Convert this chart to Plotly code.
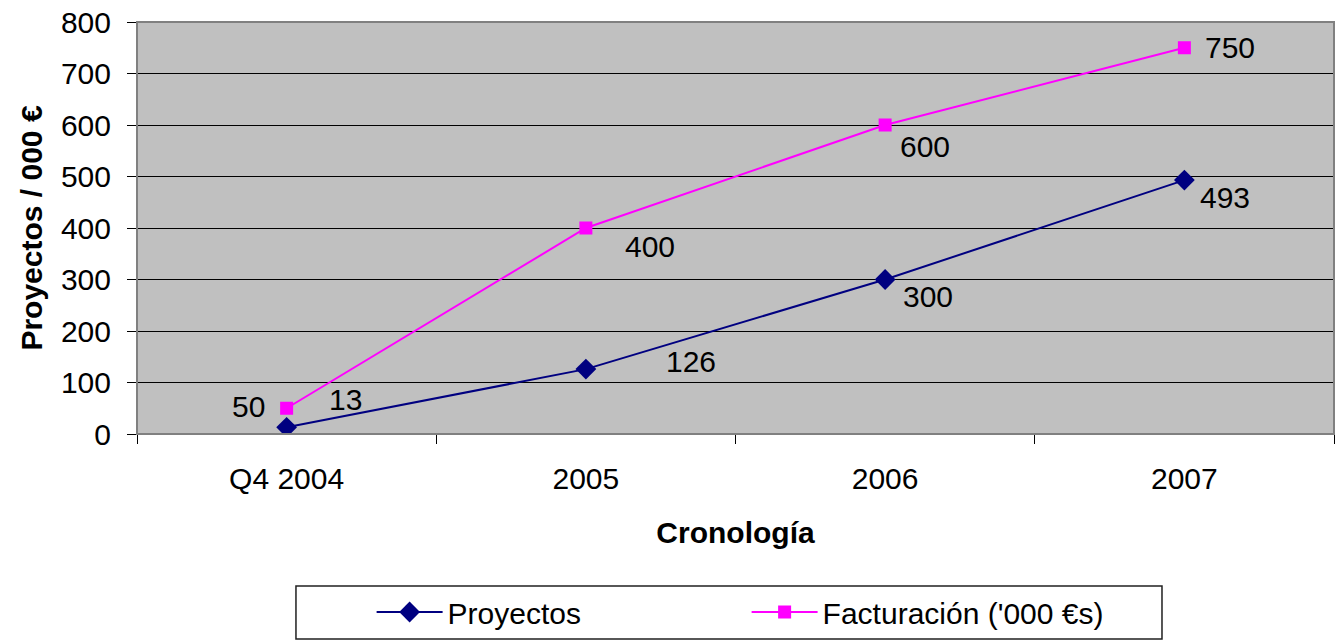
import plotly.graph_objects as go

categories = ["Q4 2004", "2005", "2006", "2007"]
proyectos = [13, 126, 300, 493]
facturacion = [50, 400, 600, 750]
y_ticks = [0, 100, 200, 300, 400, 500, 600, 700, 800]

# label offsets (px) relative to each point, as placed in the original
proy_offsets = [(59, 28), (105, 8), (43, -17), (41, -17)]
fact_offsets = [(-38, 2), (64, -18), (40, -21), (46, 0)]

FONT = "Liberation Sans, Arial, sans-serif"
FS = 30

fig = go.Figure()
fig.add_trace(go.Scatter(
    x=categories, y=proyectos, name="Proyectos", mode="lines+markers",
    line=dict(color="#000080", width=2),
    marker=dict(symbol="diamond", size=16, color="#000080"),
))
fig.add_trace(go.Scatter(
    x=categories, y=facturacion, name="Facturación ('000 €s)", mode="lines+markers",
    line=dict(color="#FF00FF", width=2),
    marker=dict(symbol="square", size=13, color="#FF00FF"),
))

annotations = []
for i, (v, (dx, dy)) in enumerate(zip(proyectos, proy_offsets)):
    annotations.append(dict(x=i, y=v, xref="x", yref="y", text=str(v), showarrow=False,
                            xshift=dx, yshift=dy, font=dict(family=FONT, size=FS, color="black")))
for i, (v, (dx, dy)) in enumerate(zip(facturacion, fact_offsets)):
    annotations.append(dict(x=i, y=v, xref="x", yref="y", text=str(v), showarrow=False,
                            xshift=dx, yshift=dy, font=dict(family=FONT, size=FS, color="black")))

fig.update_layout(
    width=1338, height=642,
    margin=dict(l=137, r=4, t=22, b=208),
    paper_bgcolor="white", plot_bgcolor="#C0C0C0",
    font=dict(family=FONT, size=FS, color="black"),
    showlegend=True,
    legend=dict(orientation="h", x=0.196, y=-0.432, xanchor="left", yanchor="middle",
                font=dict(family=FONT, size=FS), entrywidth=294, bgcolor="rgba(0,0,0,0)",
                itemwidth=66),
    annotations=annotations,
    shapes=[
        dict(type="rect", xref="paper", yref="paper", x0=0, x1=1, y0=0, y1=1,
             line=dict(color="#808080", width=2)),
        dict(type="rect", xref="paper", yref="paper", x0=0.1328, x1=0.8563, y0=-0.4976, y1=-0.3689,
             line=dict(color="#202020", width=1.5)),
    ],
)
fig.update_xaxes(
    type="category", range=[-0.5, 3.5], tickson="boundaries", ticks="outside", ticklen=9,
    tickcolor="black", showline=True, linecolor="black", linewidth=1, showgrid=False,
    ticklabelstandoff=18, tickfont=dict(size=FS), automargin=False,
    title=dict(text="<b>Cronología</b>", font=dict(size=FS), standoff=27),
)
fig.update_yaxes(
    range=[0, 800], tickvals=y_ticks, ticks="outside", ticklen=9, tickcolor="black",
    showline=True, linecolor="#808080", linewidth=1, showgrid=True, gridcolor="black", gridwidth=1,
    zeroline=False, ticklabelstandoff=10, tickfont=dict(size=FS), automargin=False,
    title=dict(text="<b>Proyectos / 000 €</b>", font=dict(size=FS), standoff=9),
)

fig.write_html(
    "out.html",
    config={"displayModeBar": False},
    post_script="document.body.style.margin='0';document.body.style.overflow='hidden';",
)
